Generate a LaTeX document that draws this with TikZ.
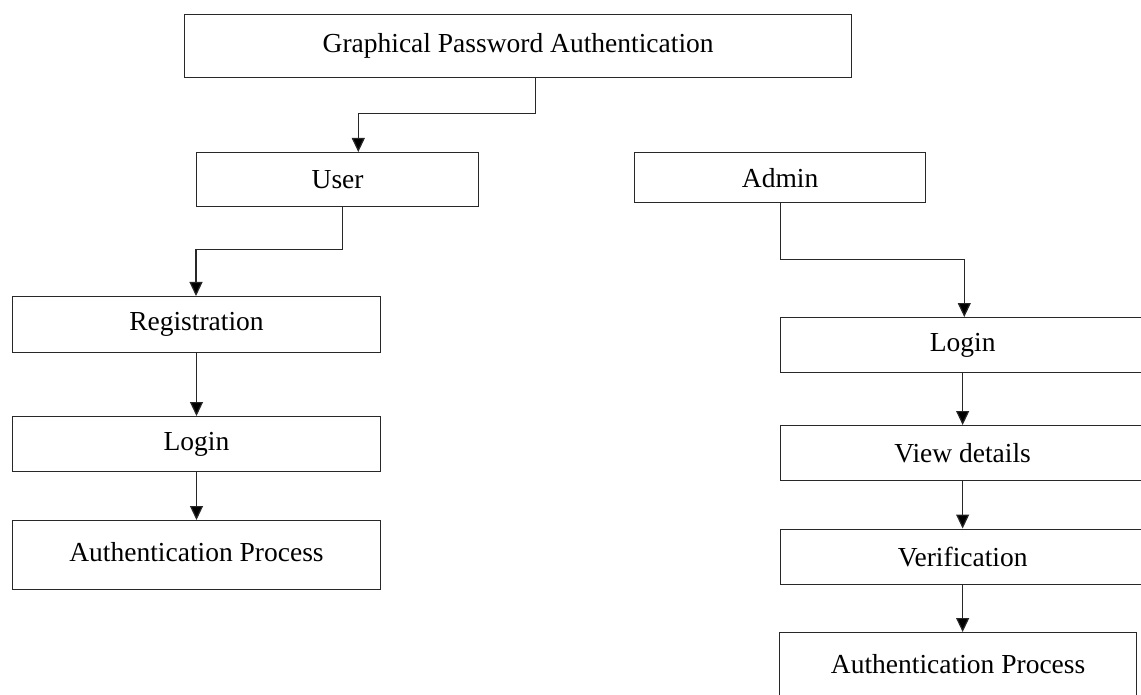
\documentclass[tikz,border=0pt]{standalone}
\usepackage{fontspec}
\setmainfont{Liberation Serif}
\usetikzlibrary{arrows.meta}
\definecolor{lc}{RGB}{40,40,40}
\tikzset{
  box/.style={draw=lc, line width=1.3pt, rectangle, inner sep=0pt, anchor=north west,
    font=\fontsize{27.5}{30}\selectfont, text=black},
  arr/.style={draw=lc, line width=1.2pt, -{Triangle[width=13pt,length=14pt,fill=black]}},
}
\begin{document}
\begin{tikzpicture}[x=1pt,y=-1pt]
\useasboundingbox (0,0) rectangle (1141,695);
\clip (0,0) rectangle (1141,695);
% top
\node[box, minimum width=667pt, minimum height=63pt] (title) at (184,14) {Graphical Password Authentication};
\node[box, minimum width=282pt, minimum height=54pt] (user) at (196,152) {User};
\node[box, minimum width=291pt, minimum height=50pt] (admin) at (634,152) {Admin};
% left column
\node[box, minimum width=368.3pt, minimum height=56pt] (reg) at (11.7,296) {\raisebox{-2pt}{Registration}};
\node[box, minimum width=368.3pt, minimum height=54.7pt] (loginL) at (11.7,416) {Login};
\node[box, minimum width=368.3pt, minimum height=68.7pt] (authL) at (11.7,520) {\raisebox{6.5pt}{Authentication Process}};
% right column
\node[box, minimum width=364pt, minimum height=55pt] (loginR) at (780,317) {Login};
\node[box, minimum width=364pt, minimum height=55pt] (view) at (780,425) {View details};
\node[box, minimum width=364pt, minimum height=55.5pt] (verif) at (780,528.5) {Verification};
\node[box, minimum width=357pt, minimum height=69pt] (authR) at (779,632) {\raisebox{5.5pt}{Authentication Process}};
% bend points
\coordinate (b1) at (535.3,113.3);
\coordinate (b2) at (358.3,113.3);
\coordinate (b3) at (342.3,249.3);
\coordinate (b4) at (196,249.3);
\coordinate (b5) at (780.3,259.3);
\coordinate (b6) at (964.3,259.3);
% connectors
\draw[arr] (title.south -| b1) -- (b1) -- (b2) -- (user.north -| b2);
\draw[arr] (user.south -| b3) -- (b3) -- (b4) -- (reg.north -| b4);
\draw[arr] (reg.south) -- (loginL.north);
\draw[arr] (loginL.south) -- (authL.north);
\draw[arr] (admin.south -| b5) -- (b5) -- (b6) -- (loginR.north -| b6);
\draw[arr] (loginR.south) -- (view.north);
\draw[arr] (view.south) -- (verif.north);
\draw[arr] (verif.south) -- (verif.south |- authR.north);
\end{tikzpicture}
\end{document}
